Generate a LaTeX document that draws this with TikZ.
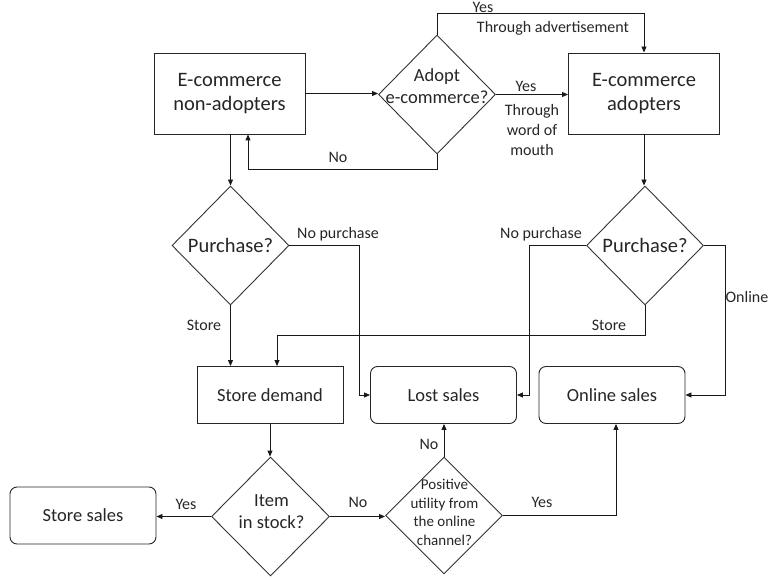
\documentclass[tikz,border=0pt]{standalone}
\usepackage{fontspec}
\setmainfont{Carlito}
\usetikzlibrary{shapes.geometric,arrows.meta,calc}
\begin{document}
\begin{tikzpicture}[x=1pt,y=-1pt,
  line width=0.9pt,
  every node/.style={text=black!85, inner sep=0pt},
  boxbig/.style={draw=black!85, rectangle, minimum width=151pt, minimum height=81pt, align=center, font=\fontsize{20.5}{24}\selectfont},
  boxsmall/.style={draw=black!85, rectangle, minimum width=146pt, minimum height=57pt, align=center, font=\fontsize{18.5}{22}\selectfont},
  roundbox/.style={boxsmall, rounded corners=7pt},
  decision/.style={draw=black!80, diamond, minimum width=117pt, minimum height=119pt},
  dtext/.style={align=center, font=\fontsize{18.5}{22}\selectfont},
  lbl/.style={font=\fontsize{16}{20}\selectfont, align=center},
  arr/.style={draw=black!90, -{Triangle[length=6pt,width=5pt]}}
]
\useasboundingbox (0,0) rectangle (771,580);

% upper row
\node[boxbig] (na) at (229.5,93.5) {E-commerce\\non-adopters};
\node[decision] (adopt) at (437,94.5) {};
\node[dtext] (adoptt) at (437,86) {Adopt\\e-commerce?};
\node[boxbig] (ad) at (644,93.5) {E-commerce\\adopters};

% purchase decisions
\node[decision] (p1) at (230.5,245.5) {};
\node[dtext, font=\fontsize{20.5}{24}\selectfont] (p1t) at (230.5,245.5) {Purchase?};
\node[decision] (p2) at (645,245.5) {};
\node[dtext, font=\fontsize{20.5}{24}\selectfont] (p2t) at (645,245.5) {Purchase?};

% demand and sales
\node[boxsmall] (sd) at (270,395) {Store demand};
\node[roundbox] (lost) at (443.5,395) {Lost sales};
\node[roundbox] (online) at (612,395) {Online sales};

% stock check
\node[decision, minimum width=118pt] (item) at (270.5,516.5) {};
\node[dtext] (itemt) at (271.5,512) {Item\\in stock?};
\node[decision, minimum height=117pt] (pos) at (444,515.5) {};
\node[dtext, font=\fontsize{15}{18.7}\selectfont] (post) at (444.5,512.5) {Positive\\utility from\\the online\\channel?};
\node[roundbox] (ss) at (83,515.5) {Store sales};

% adoption connectors
\draw[arr] (na.east) -- (na.east -| adopt.west);
\draw[arr] (adopt.north) -- (adopt.north |- 0,13) -| (ad.north);
\draw[arr] (adopt.east) -- (adopt.east -| ad.west);
\draw[arr] (adopt.south) -- (adopt.south |- 0,169) -| (na.south -| 248,0);

% purchase connectors
\draw[arr] (p1.north |- na.south) -- (p1.north);
\draw[arr] (ad.south) -- (ad.south |- p2.north);
\draw[arr] (p1.south) -- (p1.south |- sd.north);
\draw[arr] (p1.east) -- (p1.east -| 359,0) |- (lost.west);
\draw[arr] (p2.west) -- (p2.west -| 529,0) |- (lost.east);
\draw[arr] (p2.east) -- (p2.east -| 725,0) |- (online.east);
\draw[arr] (p2.south) -- (p2.south |- 0,335) -| (sd.north -| 277,0);

% stock connectors
\draw[arr] (sd.south) -- (sd.south |- item.north);
\draw[arr] (item.west) -- (item.west -| ss.east);
\draw[arr] (item.east) -- (item.east -| pos.west);
\draw[arr] (pos.north) -- (pos.north |- lost.south);
\draw[arr] (pos.east) -| ($(online.south)+(4,0)$);

% labels
\node[lbl] (l1) at (483,7) {Yes};
\node[lbl] (l2) at (553,28) {Through advertisement};
\node[lbl] (l3) at (526,86) {Yes};
\node[lbl, font=\fontsize{16}{20}\selectfont] (l4) at (532,130.5) {Through\\word of\\mouth};
\node[lbl] (l5) at (338,157) {No};
\node[lbl] (l6) at (338,234) {No purchase};
\node[lbl] (l7) at (541,234) {No purchase};
\node[lbl] (l8) at (204,325) {Store};
\node[lbl] (l9) at (609,325) {Store};
\node[lbl] (l10) at (747,297) {Online};
\node[lbl] (l11) at (186,504) {Yes};
\node[lbl] (l12) at (358,502) {No};
\node[lbl] (l13) at (429,444) {No};
\node[lbl] (l14) at (542,502) {Yes};
\end{tikzpicture}
\end{document}
